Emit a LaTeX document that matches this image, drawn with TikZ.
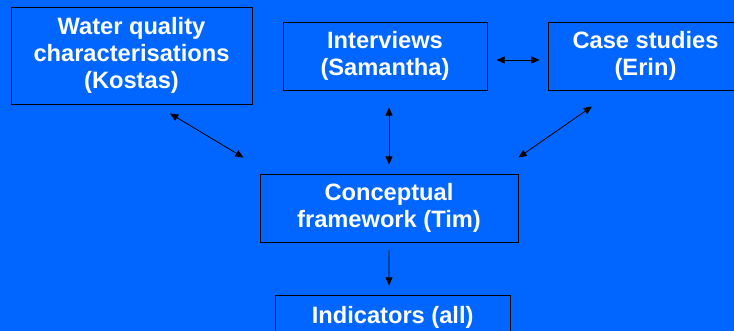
\documentclass[tikz,border=0pt]{standalone}
\usepackage{fontspec}
\setmainfont{Liberation Sans}
\usetikzlibrary{arrows.meta}
\definecolor{slideblue}{RGB}{0,102,255}
\tikzset{
    mybox/.style = {rectangle, draw=black, line width=0.8pt, align=center, inner sep=0pt,
                    text=white, font=\fontsize{20.2pt}{23pt}\selectfont\bfseries},
    edgebi/.style = {{Triangle[length=7pt,width=6pt]}-{Triangle[length=7pt,width=6pt]},line width=0.7pt,black},
    edgeone/.style = {-{Triangle[length=7pt,width=6pt]},line width=0.7pt,black}
}

\begin{document}
\begin{tikzpicture}
\useasboundingbox (0,0) rectangle (22.02,9.93);
\clip (0,0) rectangle (22.02,9.93);
\fill[slideblue] (0,0) rectangle (22.02,9.93);
%
\node[mybox, minimum width=7.23cm, minimum height=2.91cm] at (3.945, 8.265) (kostas) {Water quality\\characterisations\\(Kostas)};
\node[mybox, minimum width=6.12cm, minimum height=2.04cm] at (11.55, 8.25) (interv) {Interviews\\(Samantha)};
\node[mybox, minimum width=5.85cm, minimum height=2.04cm] at (19.365, 8.25) (cases) {Case studies\\(Erin)};
\node[mybox, minimum width=7.74cm, minimum height=2.06cm] at (11.67, 3.68) (concept) {Conceptual\\framework (Tim)};
\node[mybox, minimum width=7.05cm, minimum height=1.32cm] at (11.78, 0.42) (ind) {Indicators (all)};
%
\draw[edgebi] ([xshift=1.155cm,yshift=-0.27cm]kostas.south) -- ([xshift=-0.48cm,yshift=0.48cm]concept.north west);
\draw[edgebi] ([xshift=0.12cm,yshift=-0.51cm]interv.south) -- ([yshift=0.27cm]concept.north);
\draw[edgebi] ([xshift=0.27cm,yshift=-0.12cm]interv.east) -- ([xshift=-0.24cm,yshift=-0.12cm]cases.west);
\draw[edgebi] ([xshift=-1.605cm,yshift=-0.48cm]cases.south) -- ([yshift=0.48cm]concept.north east);
\draw[edgeone] ([yshift=-0.22cm]concept.south) -- ([xshift=-0.11cm,yshift=0.27cm]ind.north);
\end{tikzpicture}
\end{document}
